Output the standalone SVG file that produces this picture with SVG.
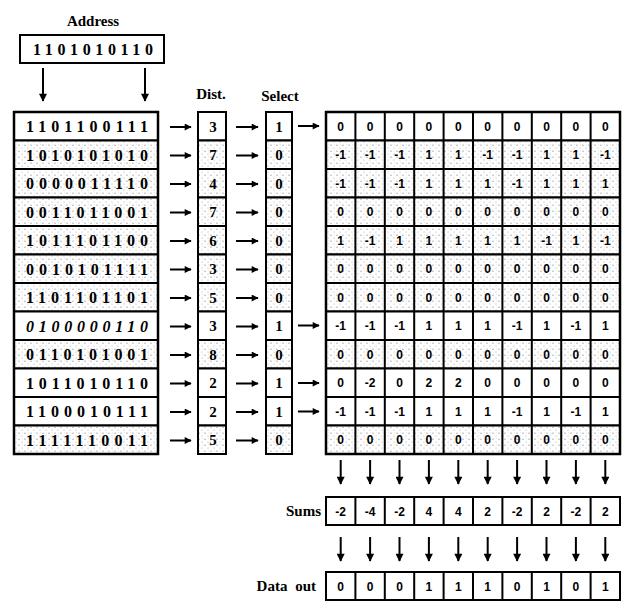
<svg xmlns="http://www.w3.org/2000/svg" width="625" height="603" viewBox="0 0 625 603">
<defs>
<pattern id="stip" width="6" height="6" patternUnits="userSpaceOnUse"><rect width="6" height="6" fill="#fff"/><circle cx="1" cy="1.2" r="0.6" fill="#888"/><circle cx="4" cy="4" r="0.55" fill="#aaa"/><circle cx="4.5" cy="0.8" r="0.4" fill="#bbb"/></pattern>
<marker id="ah" viewBox="0 0 10 10" refX="9" refY="5" markerWidth="8" markerHeight="7" markerUnits="userSpaceOnUse" orient="auto"><path d="M0,0 L10,5 L0,10 Z" fill="#000"/></marker>
<marker id="ahd" viewBox="0 0 10 10" refX="9" refY="5" markerWidth="11" markerHeight="8" markerUnits="userSpaceOnUse" orient="auto"><path d="M0,0 L10,5 L0,10 Z" fill="#000"/></marker>
</defs>
<style>
.lbl{font-family:"Liberation Serif",serif;font-weight:bold;font-size:15px;fill:#000}
.bits{font-family:"Liberation Serif",serif;font-weight:bold;font-size:16px;text-anchor:middle;fill:#000}
.num{font-family:"Liberation Serif",serif;font-weight:bold;font-size:15px;text-anchor:middle;fill:#000}
.g{font-family:"Liberation Sans",sans-serif;font-weight:bold;font-size:12px;text-anchor:middle;fill:#000}
.box{stroke:#000;stroke-width:2;fill:#fff}
.sh{stroke:#000;stroke-width:2;fill:url(#stip)}
.arr{stroke:#000;stroke-width:2;fill:none;marker-end:url(#ah)}
.arrd{stroke:#000;stroke-width:2;fill:none;marker-end:url(#ahd)}
.gl{stroke:#000;stroke-width:2;fill:none}
</style>

<g id="address">
<text class="lbl" x="93" y="26" text-anchor="middle">Address</text>
<rect class="box" x="20" y="35" width="144" height="28" stroke-width="2.5"/>
<text class="bits" x="93" y="55" textLength="120" lengthAdjust="spacing">1101010110</text>
</g>

<g id="labels">
<text class="lbl" x="211" y="99" text-anchor="middle" font-size="14">Dist.</text>
<text class="lbl" x="280" y="101" text-anchor="middle" font-size="14">Select</text>
</g>

<g id="memory-addresses">
<rect class="box" x="14" y="112" width="144" height="28.5"/>
<rect class="sh" x="14" y="140.5" width="144" height="28.5"/>
<rect class="sh" x="14" y="169" width="144" height="28.5"/>
<rect class="sh" x="14" y="197.5" width="144" height="28.5"/>
<rect class="sh" x="14" y="226" width="144" height="28.5"/>
<rect class="sh" x="14" y="254.5" width="144" height="28.5"/>
<rect class="sh" x="14" y="283" width="144" height="28.5"/>
<rect class="box" x="14" y="311.5" width="144" height="28.5"/>
<rect class="sh" x="14" y="340" width="144" height="28.5"/>
<rect class="box" x="14" y="368.5" width="144" height="28.5"/>
<rect class="box" x="14" y="397" width="144" height="28.5"/>
<rect class="sh" x="14" y="425.5" width="144" height="28.5"/>
<rect x="14" y="112" width="144" height="342" fill="none" stroke="#000" stroke-width="2.5"/>
<text class="bits" x="87" y="132" textLength="122" lengthAdjust="spacing">1101100111</text>
<text class="bits" x="87" y="160.5" textLength="122" lengthAdjust="spacing">1010101010</text>
<text class="bits" x="87" y="189" textLength="122" lengthAdjust="spacing">0000011110</text>
<text class="bits" x="87" y="217.5" textLength="122" lengthAdjust="spacing">0011011001</text>
<text class="bits" x="87" y="246" textLength="122" lengthAdjust="spacing">1011101100</text>
<text class="bits" x="87" y="274.5" textLength="122" lengthAdjust="spacing">0010101111</text>
<text class="bits" x="87" y="303" textLength="122" lengthAdjust="spacing">1101101101</text>
<text class="bits" x="87" y="331.5" textLength="122" lengthAdjust="spacing" font-style="italic">0100000110</text>
<text class="bits" x="87" y="360" textLength="122" lengthAdjust="spacing">0110101001</text>
<text class="bits" x="87" y="388.5" textLength="122" lengthAdjust="spacing">1011010110</text>
<text class="bits" x="87" y="417" textLength="122" lengthAdjust="spacing">1100010111</text>
<text class="bits" x="87" y="445.5" textLength="122" lengthAdjust="spacing">1111110011</text>
</g>

<g id="distances">
<rect class="box" x="198" y="112" width="28" height="28.5"/>
<rect class="sh" x="198" y="140.5" width="28" height="28.5"/>
<rect class="sh" x="198" y="169" width="28" height="28.5"/>
<rect class="sh" x="198" y="197.5" width="28" height="28.5"/>
<rect class="sh" x="198" y="226" width="28" height="28.5"/>
<rect class="sh" x="198" y="254.5" width="28" height="28.5"/>
<rect class="sh" x="198" y="283" width="28" height="28.5"/>
<rect class="box" x="198" y="311.5" width="28" height="28.5"/>
<rect class="sh" x="198" y="340" width="28" height="28.5"/>
<rect class="box" x="198" y="368.5" width="28" height="28.5"/>
<rect class="box" x="198" y="397" width="28" height="28.5"/>
<rect class="sh" x="198" y="425.5" width="28" height="28.5"/>
<text class="num" x="213" y="131.5">3</text>
<text class="num" x="213" y="160">7</text>
<text class="num" x="213" y="188.5">4</text>
<text class="num" x="213" y="217">7</text>
<text class="num" x="213" y="245.5">6</text>
<text class="num" x="213" y="274">3</text>
<text class="num" x="213" y="302.5">5</text>
<text class="num" x="213" y="331">3</text>
<text class="num" x="213" y="359.5">8</text>
<text class="num" x="213" y="388">2</text>
<text class="num" x="213" y="416.5">2</text>
<text class="num" x="213" y="445">5</text>
</g>

<g id="select">
<rect class="box" x="266" y="112" width="26" height="28.5"/>
<rect class="sh" x="266" y="140.5" width="26" height="28.5"/>
<rect class="sh" x="266" y="169" width="26" height="28.5"/>
<rect class="sh" x="266" y="197.5" width="26" height="28.5"/>
<rect class="sh" x="266" y="226" width="26" height="28.5"/>
<rect class="sh" x="266" y="254.5" width="26" height="28.5"/>
<rect class="sh" x="266" y="283" width="26" height="28.5"/>
<rect class="box" x="266" y="311.5" width="26" height="28.5"/>
<rect class="sh" x="266" y="340" width="26" height="28.5"/>
<rect class="box" x="266" y="368.5" width="26" height="28.5"/>
<rect class="box" x="266" y="397" width="26" height="28.5"/>
<rect class="sh" x="266" y="425.5" width="26" height="28.5"/>
<text class="num" x="279" y="131.5">1</text>
<text class="num" x="279" y="160">0</text>
<text class="num" x="279" y="188.5">0</text>
<text class="num" x="279" y="217">0</text>
<text class="num" x="279" y="245.5">0</text>
<text class="num" x="279" y="274">0</text>
<text class="num" x="279" y="302.5">0</text>
<text class="num" x="279" y="331">1</text>
<text class="num" x="279" y="359.5">0</text>
<text class="num" x="279" y="388">1</text>
<text class="num" x="279" y="416.5">1</text>
<text class="num" x="279" y="445">0</text>
</g>

<g id="counters">
<rect class="box" x="326" y="112" width="294" height="28.5"/>
<rect class="sh" x="326" y="140.5" width="294" height="28.5"/>
<rect class="sh" x="326" y="169" width="294" height="28.5"/>
<rect class="sh" x="326" y="197.5" width="294" height="28.5"/>
<rect class="sh" x="326" y="226" width="294" height="28.5"/>
<rect class="sh" x="326" y="254.5" width="294" height="28.5"/>
<rect class="sh" x="326" y="283" width="294" height="28.5"/>
<rect class="box" x="326" y="311.5" width="294" height="28.5"/>
<rect class="sh" x="326" y="340" width="294" height="28.5"/>
<rect class="box" x="326" y="368.5" width="294" height="28.5"/>
<rect class="box" x="326" y="397" width="294" height="28.5"/>
<rect class="sh" x="326" y="425.5" width="294" height="28.5"/>
<path class="gl" d="M355.4,112V454M384.8,112V454M414.2,112V454M443.6,112V454M473,112V454M502.4,112V454M531.8,112V454M561.2,112V454M590.6,112V454"/>
<rect x="326" y="112" width="294" height="342" fill="none" stroke="#000" stroke-width="2.5"/>
<text class="g" x="340.7" y="130.5">0</text><text class="g" x="370.1" y="130.5">0</text><text class="g" x="399.5" y="130.5">0</text><text class="g" x="428.9" y="130.5">0</text><text class="g" x="458.3" y="130.5">0</text><text class="g" x="487.7" y="130.5">0</text><text class="g" x="517.1" y="130.5">0</text><text class="g" x="546.5" y="130.5">0</text><text class="g" x="575.9" y="130.5">0</text><text class="g" x="605.3" y="130.5">0</text>
<text class="g" x="340.7" y="159">-1</text><text class="g" x="370.1" y="159">-1</text><text class="g" x="399.5" y="159">-1</text><text class="g" x="428.9" y="159">1</text><text class="g" x="458.3" y="159">1</text><text class="g" x="487.7" y="159">-1</text><text class="g" x="517.1" y="159">-1</text><text class="g" x="546.5" y="159">1</text><text class="g" x="575.9" y="159">1</text><text class="g" x="605.3" y="159">-1</text>
<text class="g" x="340.7" y="187.5">-1</text><text class="g" x="370.1" y="187.5">-1</text><text class="g" x="399.5" y="187.5">-1</text><text class="g" x="428.9" y="187.5">1</text><text class="g" x="458.3" y="187.5">1</text><text class="g" x="487.7" y="187.5">1</text><text class="g" x="517.1" y="187.5">-1</text><text class="g" x="546.5" y="187.5">1</text><text class="g" x="575.9" y="187.5">1</text><text class="g" x="605.3" y="187.5">1</text>
<text class="g" x="340.7" y="216">0</text><text class="g" x="370.1" y="216">0</text><text class="g" x="399.5" y="216">0</text><text class="g" x="428.9" y="216">0</text><text class="g" x="458.3" y="216">0</text><text class="g" x="487.7" y="216">0</text><text class="g" x="517.1" y="216">0</text><text class="g" x="546.5" y="216">0</text><text class="g" x="575.9" y="216">0</text><text class="g" x="605.3" y="216">0</text>
<text class="g" x="340.7" y="244.5">1</text><text class="g" x="370.1" y="244.5">-1</text><text class="g" x="399.5" y="244.5">1</text><text class="g" x="428.9" y="244.5">1</text><text class="g" x="458.3" y="244.5">1</text><text class="g" x="487.7" y="244.5">1</text><text class="g" x="517.1" y="244.5">1</text><text class="g" x="546.5" y="244.5">-1</text><text class="g" x="575.9" y="244.5">1</text><text class="g" x="605.3" y="244.5">-1</text>
<text class="g" x="340.7" y="273">0</text><text class="g" x="370.1" y="273">0</text><text class="g" x="399.5" y="273">0</text><text class="g" x="428.9" y="273">0</text><text class="g" x="458.3" y="273">0</text><text class="g" x="487.7" y="273">0</text><text class="g" x="517.1" y="273">0</text><text class="g" x="546.5" y="273">0</text><text class="g" x="575.9" y="273">0</text><text class="g" x="605.3" y="273">0</text>
<text class="g" x="340.7" y="301.5">0</text><text class="g" x="370.1" y="301.5">0</text><text class="g" x="399.5" y="301.5">0</text><text class="g" x="428.9" y="301.5">0</text><text class="g" x="458.3" y="301.5">0</text><text class="g" x="487.7" y="301.5">0</text><text class="g" x="517.1" y="301.5">0</text><text class="g" x="546.5" y="301.5">0</text><text class="g" x="575.9" y="301.5">0</text><text class="g" x="605.3" y="301.5">0</text>
<text class="g" x="340.7" y="330">-1</text><text class="g" x="370.1" y="330">-1</text><text class="g" x="399.5" y="330">-1</text><text class="g" x="428.9" y="330">1</text><text class="g" x="458.3" y="330">1</text><text class="g" x="487.7" y="330">1</text><text class="g" x="517.1" y="330">-1</text><text class="g" x="546.5" y="330">1</text><text class="g" x="575.9" y="330">-1</text><text class="g" x="605.3" y="330">1</text>
<text class="g" x="340.7" y="358.5">0</text><text class="g" x="370.1" y="358.5">0</text><text class="g" x="399.5" y="358.5">0</text><text class="g" x="428.9" y="358.5">0</text><text class="g" x="458.3" y="358.5">0</text><text class="g" x="487.7" y="358.5">0</text><text class="g" x="517.1" y="358.5">0</text><text class="g" x="546.5" y="358.5">0</text><text class="g" x="575.9" y="358.5">0</text><text class="g" x="605.3" y="358.5">0</text>
<text class="g" x="340.7" y="387">0</text><text class="g" x="370.1" y="387">-2</text><text class="g" x="399.5" y="387">0</text><text class="g" x="428.9" y="387">2</text><text class="g" x="458.3" y="387">2</text><text class="g" x="487.7" y="387">0</text><text class="g" x="517.1" y="387">0</text><text class="g" x="546.5" y="387">0</text><text class="g" x="575.9" y="387">0</text><text class="g" x="605.3" y="387">0</text>
<text class="g" x="340.7" y="415.5">-1</text><text class="g" x="370.1" y="415.5">-1</text><text class="g" x="399.5" y="415.5">-1</text><text class="g" x="428.9" y="415.5">1</text><text class="g" x="458.3" y="415.5">1</text><text class="g" x="487.7" y="415.5">1</text><text class="g" x="517.1" y="415.5">-1</text><text class="g" x="546.5" y="415.5">1</text><text class="g" x="575.9" y="415.5">-1</text><text class="g" x="605.3" y="415.5">1</text>
<text class="g" x="340.7" y="444">0</text><text class="g" x="370.1" y="444">0</text><text class="g" x="399.5" y="444">0</text><text class="g" x="428.9" y="444">0</text><text class="g" x="458.3" y="444">0</text><text class="g" x="487.7" y="444">0</text><text class="g" x="517.1" y="444">0</text><text class="g" x="546.5" y="444">0</text><text class="g" x="575.9" y="444">0</text><text class="g" x="605.3" y="444">0</text>
</g>

<g id="sums">
<text class="lbl" x="321" y="516" text-anchor="end">Sums</text>
<rect class="box" x="326" y="497" width="294" height="28"/>
<path class="gl" d="M355.4,497V525M384.8,497V525M414.2,497V525M443.6,497V525M473,497V525M502.4,497V525M531.8,497V525M561.2,497V525M590.6,497V525"/>
<text class="g" x="340.7" y="515.5">-2</text><text class="g" x="370.1" y="515.5">-4</text><text class="g" x="399.5" y="515.5">-2</text><text class="g" x="428.9" y="515.5">4</text><text class="g" x="458.3" y="515.5">4</text><text class="g" x="487.7" y="515.5">2</text><text class="g" x="517.1" y="515.5">-2</text><text class="g" x="546.5" y="515.5">2</text><text class="g" x="575.9" y="515.5">-2</text><text class="g" x="605.3" y="515.5">2</text>
</g>

<g id="data-out">
<text class="lbl" x="316" y="591" text-anchor="end" word-spacing="4">Data out</text>
<rect class="box" x="326" y="572" width="294" height="28"/>
<path class="gl" d="M355.4,572V600M384.8,572V600M414.2,572V600M443.6,572V600M473,572V600M502.4,572V600M531.8,572V600M561.2,572V600M590.6,572V600"/>
<text class="g" x="340.7" y="590.5">0</text><text class="g" x="370.1" y="590.5">0</text><text class="g" x="399.5" y="590.5">0</text><text class="g" x="428.9" y="590.5">1</text><text class="g" x="458.3" y="590.5">1</text><text class="g" x="487.7" y="590.5">1</text><text class="g" x="517.1" y="590.5">0</text><text class="g" x="546.5" y="590.5">1</text><text class="g" x="575.9" y="590.5">0</text><text class="g" x="605.3" y="590.5">1</text>
</g>

<g id="connectors">
<path class="arrd" d="M43,68V101"/>
<path class="arrd" d="M145,68V101"/>
<path class="arr" d="M170,127H191"/>
<path class="arr" d="M170,155.5H191"/>
<path class="arr" d="M170,184H191"/>
<path class="arr" d="M170,212.5H191"/>
<path class="arr" d="M170,241H191"/>
<path class="arr" d="M170,269.5H191"/>
<path class="arr" d="M170,298H191"/>
<path class="arr" d="M170,326.5H191"/>
<path class="arr" d="M170,355H191"/>
<path class="arr" d="M170,383.5H191"/>
<path class="arr" d="M170,412H191"/>
<path class="arr" d="M170,440.5H191"/>
<path class="arr" d="M236,127H258"/>
<path class="arr" d="M236,155.5H258"/>
<path class="arr" d="M236,184H258"/>
<path class="arr" d="M236,212.5H258"/>
<path class="arr" d="M236,241H258"/>
<path class="arr" d="M236,269.5H258"/>
<path class="arr" d="M236,298H258"/>
<path class="arr" d="M236,326.5H258"/>
<path class="arr" d="M236,355H258"/>
<path class="arr" d="M236,383.5H258"/>
<path class="arr" d="M236,412H258"/>
<path class="arr" d="M236,440.5H258"/>
<path class="arr" d="M298,126H319"/>
<path class="arr" d="M298,325.5H319"/>
<path class="arr" d="M298,383H319"/>
<path class="arr" d="M298,411.5H319"/>
<path class="arrd" d="M340.7,460V484"/><path class="arrd" d="M370.1,460V484"/><path class="arrd" d="M399.5,460V484"/><path class="arrd" d="M428.9,460V484"/><path class="arrd" d="M458.3,460V484"/><path class="arrd" d="M487.7,460V484"/><path class="arrd" d="M517.1,460V484"/><path class="arrd" d="M546.5,460V484"/><path class="arrd" d="M575.9,460V484"/><path class="arrd" d="M605.3,460V484"/>
<path class="arrd" d="M340.7,537V561"/><path class="arrd" d="M370.1,537V561"/><path class="arrd" d="M399.5,537V561"/><path class="arrd" d="M428.9,537V561"/><path class="arrd" d="M458.3,537V561"/><path class="arrd" d="M487.7,537V561"/><path class="arrd" d="M517.1,537V561"/><path class="arrd" d="M546.5,537V561"/><path class="arrd" d="M575.9,537V561"/><path class="arrd" d="M605.3,537V561"/>
</g>
</svg>
